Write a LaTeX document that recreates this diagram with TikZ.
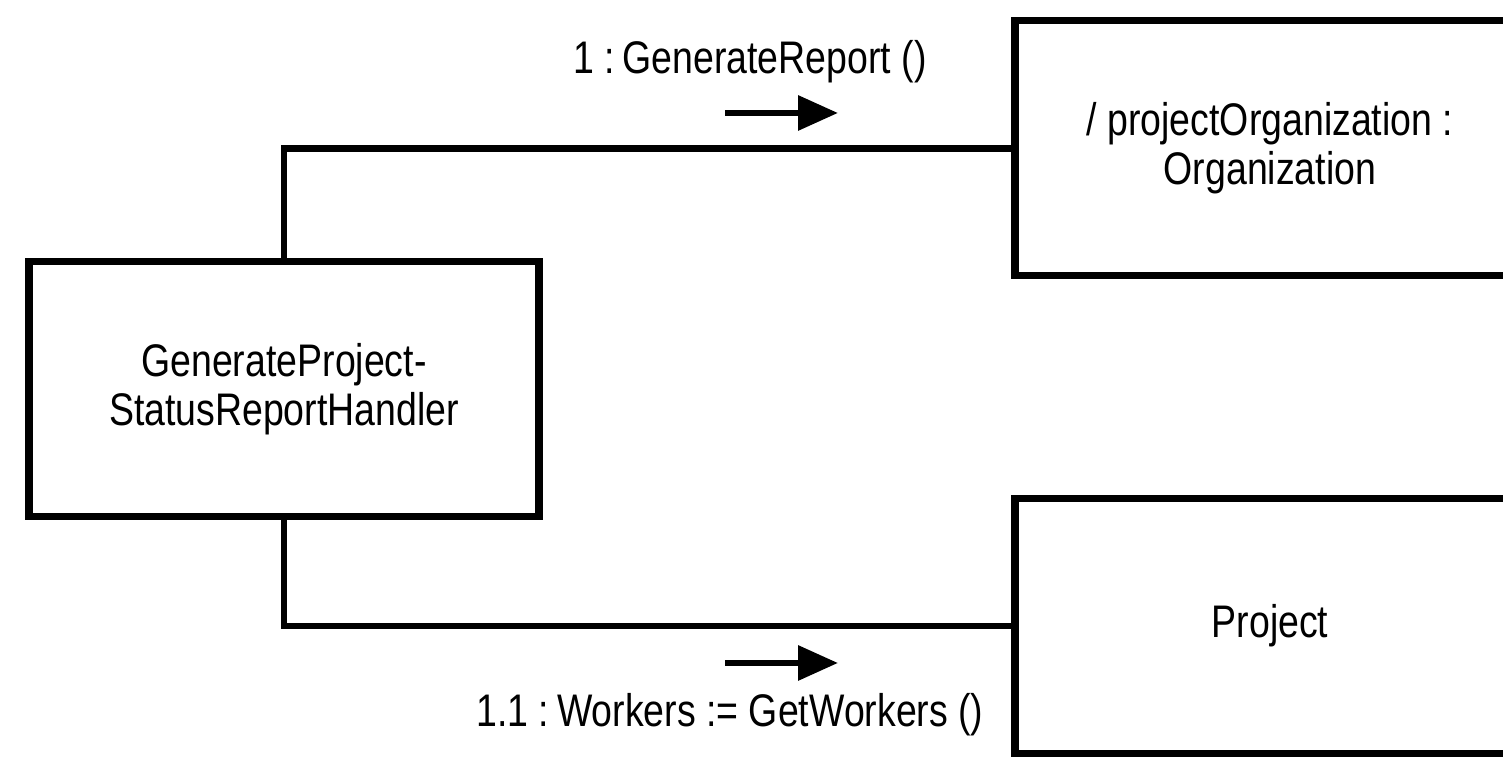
\documentclass[tikz,border=0pt]{standalone}
\usepackage{fontspec}
\setmainfont{Liberation Sans}[FakeStretch=0.82]
\usetikzlibrary{arrows.meta}

\tikzset{
  objbox/.style={draw, line width=2pt, minimum width=5.1cm, minimum height=2.55cm,
    align=center, font=\fontsize{13}{14}\selectfont},
  link/.style={line width=1.8pt},
  msgarrow/.style={line width=1.8pt, -{Triangle[length=4mm,width=3.4mm]}},
  msglabel/.style={font=\fontsize{13}{14}\selectfont}
}

\begin{document}
\begin{tikzpicture}
    \useasboundingbox (0,0) rectangle (15.03,7.57);
    \clip (0,0) rectangle (15.03,7.57);

    % オブジェクト
    \node[objbox] (handler) at (2.84,3.675) {GenerateProject-\\StatusReportHandler};
    \node[objbox] (org) at (12.70,6.085) {/ projectOrganization :\\Organization};
    \node[objbox] (project) at (12.70,1.31) {Project};

    % リンク
    \draw[link] (handler.north) |- (org.west);
    \draw[link] (handler.south) |- (project.west);

    % メッセージ 1
    \coordinate (m1s) at (7.25,6.44);
    \coordinate (m1e) at (8.38,6.44);
    \draw[msgarrow] (m1s) -- (m1e);
    \node[msglabel] (m1) at (7.50,6.95) {1 :\,GenerateReport ()};

    % メッセージ 1.1
    \coordinate (m2s) at (7.25,0.94);
    \coordinate (m2e) at (8.38,0.94);
    \draw[msgarrow] (m2s) -- (m2e);
    \node[msglabel] (m2) at (7.30,0.42) {1.1 :\,Workers := GetWorkers ()};
\end{tikzpicture}
\end{document}
